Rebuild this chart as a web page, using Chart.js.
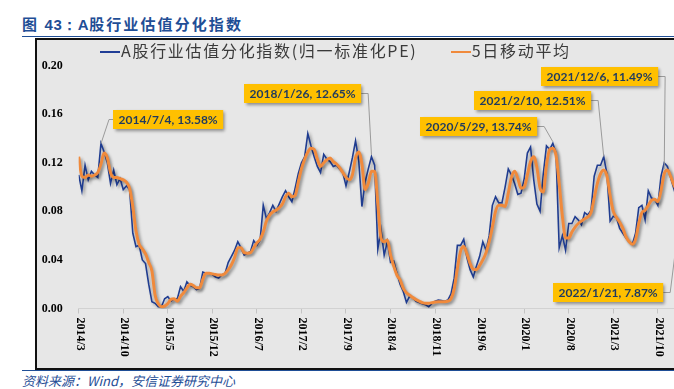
<!DOCTYPE html>
<html lang="zh">
<head>
<meta charset="UTF-8">
<title>A股行业估值分化指数</title>
<script src="https://cdn.jsdelivr.net/npm/chart.js"></script>
<style>
    html, body {
        margin: 0;
        padding: 0;
        width: 674px;
        height: 389px;
        overflow: hidden;
        background: #fff;
        position: relative;
        font-family: 'Noto Sans CJK SC', sans-serif;
    }
    .title {
        position: absolute;
        left: 22px;
        top: 13px;
        font-size: 15px;
        font-weight: bold;
        color: #1f4e96;
        letter-spacing: 2.1px;
        white-space: nowrap;
    }
    .title .num { font-family: 'Liberation Sans', sans-serif; letter-spacing: 0.5px; }
    .rule {
        position: absolute;
        left: 22px;
        width: 660px;
        height: 1px;
        background: #1f4e96;
    }
    .frame {
        position: absolute;
        left: 35px;
        top: 38px;
        width: 700px;
        height: 328px;
        border: 2px solid #111;
        background: #e7e7e7;
    }
    canvas { position: absolute; left: 37px; top: 40px; }
    .legend {
        position: absolute;
        top: 38px;
        left: 100px;
        font-size: 16px;
        color: #3a3a3a;
        letter-spacing: 1.7px;
        white-space: nowrap;
    }
    .legend span.item { margin-right: 28px; }
    .legend i {
        display: inline-block;
        width: 20px;
        height: 2px;
        vertical-align: middle;
        margin-right: 1px;
        position: relative;
        top: -1px;
    }
    .source {
        position: absolute;
        left: 22px;
        top: 371px;
        font-size: 13px;
        font-style: italic;
        color: #1f4e96;
        white-space: nowrap;
    }
</style>
</head>
<body>
<div class="title">图 <span class="num">43：A</span>股行业估值分化指数</div>
<div class="rule" style="top:36px"></div>
<div class="frame"></div>
<div class="rule" style="top:370px"></div>
<canvas id="chart" width="700" height="327"></canvas>
<div class="legend">
    <span class="item"><i style="background:#203e96"></i>A股行业估值分化指数(归一标准化PE)</span>
    <span class="item"><i style="background:#f08a3c"></i>5日移动平均</span>
</div>
<div class="source">资料来源：Wind，安信证券研究中心</div>

<script>
    // half-month steps starting 2014/3
    const STEP = 0.5;
    const tickLabels = ['2014/3', '2014/10', '2015/5', '2015/12', '2016/7', '2017/2', '2017/9',
        '2018/4', '2018/11', '2019/6', '2020/1', '2020/8', '2021/3', '2021/10'];

    const dispersion = [
        0.110, 0.097, 0.118, 0.106, 0.113, 0.110, 0.108, 0.136, 0.129, 0.120,
        0.103, 0.114, 0.102, 0.107, 0.098, 0.101, 0.098, 0.062, 0.051, 0.052,
        0.040, 0.037, 0.020, 0.0056, 0.0043, 0.0015, 0.0015, 0.008, 0.0098, 0.006,
        0.008, 0.008, 0.018, 0.014, 0.022, 0.019, 0.018, 0.0155, 0.0166, 0.030,
        0.029, 0.029, 0.028, 0.026, 0.025, 0.0276, 0.029, 0.038, 0.043, 0.048,
        0.055, 0.050, 0.044, 0.0455, 0.047, 0.056, 0.052, 0.056, 0.085, 0.074,
        0.079, 0.085, 0.080, 0.086, 0.092, 0.097, 0.092, 0.088, 0.099, 0.111,
        0.120, 0.125, 0.144, 0.134, 0.125, 0.117, 0.112, 0.127, 0.123, 0.121,
        0.117, 0.118, 0.115, 0.112, 0.101, 0.112, 0.124, 0.138, 0.122, 0.084,
        0.104, 0.115, 0.125, 0.118, 0.049, 0.065, 0.044, 0.055, 0.038, 0.039,
        0.029, 0.020, 0.014, 0.005, 0.010, 0.009, 0.006, 0.005, 0.004, 0.003,
        0.0015, 0.004, 0.006, 0.007, 0.0065, 0.006, 0.007, 0.012, 0.025, 0.052,
        0.052, 0.057, 0.042, 0.032, 0.026, 0.035, 0.043, 0.055, 0.048, 0.060,
        0.085, 0.092, 0.087, 0.087, 0.100, 0.115, 0.110, 0.103, 0.094, 0.095,
        0.107, 0.128, 0.133, 0.106, 0.086, 0.080, 0.111, 0.134, 0.131, 0.136,
        0.128, 0.050, 0.060, 0.048, 0.070, 0.070, 0.0757, 0.073, 0.069, 0.079,
        0.077, 0.081, 0.109, 0.118, 0.118, 0.125, 0.111, 0.072, 0.076, 0.075,
        0.066, 0.062, 0.058, 0.055, 0.053, 0.062, 0.083, 0.085, 0.073, 0.097,
        0.091, 0.090, 0.085, 0.109, 0.120, 0.117, 0.108, 0.099, 0.090, 0.079
    ];

    const movingAvg = [
        0.125, 0.109, 0.108, 0.110, 0.109, 0.110, 0.112, 0.119, 0.128, 0.124,
        0.112, 0.108, 0.108, 0.107, 0.106, 0.104, 0.099, 0.084, 0.064, 0.053,
        0.049, 0.045, 0.038, 0.031, 0.011, 0.004, 0.0015, 0.002, 0.004, 0.0075,
        0.008, 0.006, 0.010, 0.013, 0.017, 0.020, 0.019, 0.017, 0.017, 0.024,
        0.029, 0.029, 0.0285, 0.028, 0.0276, 0.0276, 0.029, 0.032, 0.036, 0.042,
        0.050, 0.050, 0.046, 0.0455, 0.046, 0.050, 0.054, 0.057, 0.063, 0.072,
        0.077, 0.0795, 0.081, 0.083, 0.086, 0.092, 0.095, 0.092, 0.093, 0.104,
        0.115, 0.123, 0.129, 0.132, 0.131, 0.123, 0.117, 0.120, 0.1225, 0.124,
        0.121, 0.119, 0.116, 0.112, 0.108, 0.106, 0.110, 0.124, 0.129, 0.119,
        0.098, 0.103, 0.113, 0.113, 0.086, 0.058, 0.055, 0.0565, 0.044, 0.035,
        0.0275, 0.0235, 0.0166, 0.013, 0.011, 0.009, 0.0073, 0.006, 0.0048, 0.0043,
        0.0043, 0.0048, 0.0053, 0.0056, 0.0056, 0.0056, 0.006, 0.008, 0.016, 0.033,
        0.047, 0.051, 0.045, 0.037, 0.0323, 0.032, 0.0355, 0.040, 0.046, 0.055,
        0.067, 0.080, 0.085, 0.085, 0.084, 0.095, 0.108, 0.113, 0.107, 0.099,
        0.100, 0.110, 0.121, 0.125, 0.116, 0.099, 0.096, 0.118, 0.131, 0.132,
        0.126, 0.103, 0.076, 0.058, 0.058, 0.063, 0.067, 0.070, 0.072, 0.074,
        0.0755, 0.079, 0.091, 0.103, 0.111, 0.114, 0.109, 0.093, 0.080, 0.075,
        0.071, 0.066, 0.059, 0.055, 0.053, 0.057, 0.070, 0.079, 0.081, 0.085,
        0.089, 0.090, 0.088, 0.097, 0.111, 0.114, 0.109, 0.102, 0.097, 0.094
    ];

    // callouts: text, month offset and value of the marked point
    const calloutText = ['2014/7/4, 13.58%', '2018/1/26, 12.65%', '2020/5/29, 13.74%',
        '2021/2/10, 12.51%', '2021/12/6, 11.49%', '2022/1/21, 7.87%'];
    const calloutMonth = [3.5, 46.0, 74.5, 82.5, 92.0, 94.5];
    const calloutValue = [0.1358, 0.1265, 0.1374, 0.1251, 0.1149, 0.0787];
    // box placement in canvas px (left, top, leader side)
    const calloutBox = [[76, 70, 'L'], [207, 44, 'R'], [383, 77, 'R'],
        [437, 51, 'R'], [504, 27, 'R'], [516, 243, 'R']];

    const toPoints = arr => arr.map((v, i) => ({ x: i * STEP, y: v }));

    const lineShadow = {
        id: 'lineShadow',
        beforeDatasetDraw(chart) {
            const ctx = chart.ctx;
            ctx.save();
            ctx.shadowColor = 'rgba(0,0,0,0.35)';
            ctx.shadowBlur = 3;
            ctx.shadowOffsetX = 2;
            ctx.shadowOffsetY = 2;
        },
        afterDatasetDraw(chart) {
            chart.ctx.restore();
        }
    };

    const extras = {
        id: 'extras',
        afterDraw(chart) {
            const ctx = chart.ctx;
            const xs = chart.scales.x, ys = chart.scales.y;
            const area = chart.chartArea;

            // rotated x labels (read top to bottom)
            ctx.save();
            ctx.fillStyle = '#000';
            ctx.font = 'bold 12px "Liberation Serif"';
            ctx.textAlign = 'left';
            ctx.textBaseline = 'middle';
            tickLabels.forEach((lab, i) => {
                const x = xs.getPixelForValue(i * 7);
                ctx.save();
                ctx.translate(x + 1, area.bottom + 9);
                ctx.rotate(Math.PI / 2);
                ctx.fillText(lab, 0, 0);
                ctx.restore();
            });
            ctx.restore();

            // callouts
            ctx.save();
            ctx.font = 'bold 12px Lato';
            calloutText.forEach((t, i) => {
                const [bx, by, side] = calloutBox[i];
                const w = ctx.measureText(t).width + 11;
                const h = 19;
                const px = xs.getPixelForValue(calloutMonth[i]);
                const py = ys.getPixelForValue(calloutValue[i]);
                const sx = side === 'L' ? bx : bx + w;
                const sy = by + h / 2;
                const kx = side === 'L' ? sx - 4 : sx + 7;
                ctx.strokeStyle = '#9a9a9a';
                ctx.lineWidth = 1;
                ctx.beginPath();
                ctx.moveTo(sx, sy);
                ctx.lineTo(kx, sy);
                ctx.lineTo(px, py);
                ctx.stroke();

                ctx.save();
                ctx.shadowColor = 'rgba(0,0,0,0.4)';
                ctx.shadowBlur = 3;
                ctx.shadowOffsetX = 2;
                ctx.shadowOffsetY = 2;
                ctx.fillStyle = '#ffc000';
                ctx.fillRect(bx, by, w, h);
                ctx.restore();

                ctx.fillStyle = '#1f3a5f';
                ctx.textAlign = 'left';
                ctx.textBaseline = 'middle';
                ctx.fillText(t, bx + 5.5, by + h / 2 + 0.5);
            });
            ctx.restore();
        }
    };

    new Chart(document.getElementById('chart'), {
        type: 'line',
        data: {
            datasets: [{
                label: 'A股行业估值分化指数(归一标准化PE)',
                data: toPoints(dispersion),
                borderColor: '#1f3c90',
                borderWidth: 1.6,
                pointRadius: 0,
                tension: 0,
                order: 2
            }, {
                label: '5日移动平均',
                data: toPoints(movingAvg),
                borderColor: '#f08a3c',
                borderWidth: 3,
                pointRadius: 0,
                cubicInterpolationMode: 'monotone',
                order: 1
            }]
        },
        options: {
            responsive: false,
            animation: false,
            devicePixelRatio: 1,
            layout: { padding: { left: 0, top: 25.7, right: 53.7, bottom: 0 } },
            plugins: {
                legend: { display: false },
                tooltip: { enabled: false }
            },
            scales: {
                x: {
                    type: 'linear',
                    min: 0,
                    max: 95,
                    afterBuildTicks: s => { s.ticks = tickLabels.map((_, i) => ({ value: i * 7 })); },
                    afterFit: s => { s.height = 58.5; },
                    ticks: { display: false },
                    grid: { display: true, drawOnChartArea: false, drawTicks: true, tickLength: 5, color: '#c4c4c4' },
                    border: { display: true, color: '#d2d2d2' }
                },
                y: {
                    min: 0,
                    max: 0.2,
                    afterFit: s => { s.width = 41.7; },
                    ticks: {
                        stepSize: 0.04,
                        padding: 16,
                        color: '#000',
                        font: { family: 'Liberation Serif', weight: 'bold', size: 12 },
                        callback: v => v.toFixed(2)
                    },
                    grid: { display: false, drawTicks: false },
                    border: { display: false }
                }
            }
        },
        plugins: [lineShadow, extras]
    });
</script>
</body>
</html>
